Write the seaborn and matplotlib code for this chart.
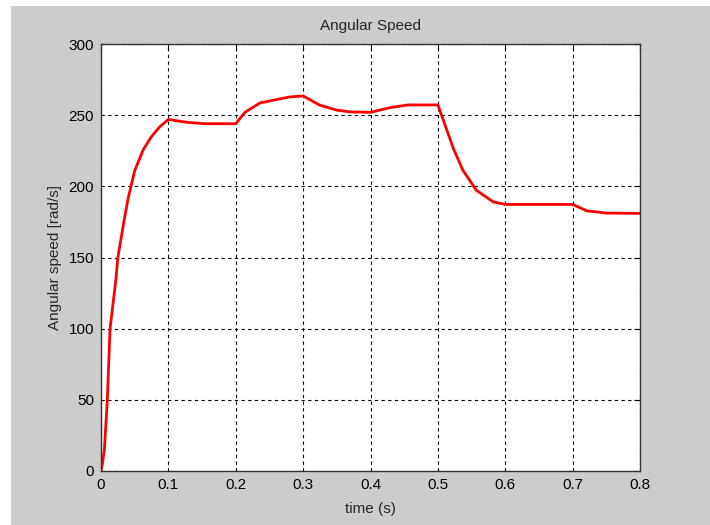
import numpy as np
import pandas as pd
import matplotlib
matplotlib.use("Agg")
import matplotlib.pyplot as plt
from matplotlib.patches import Rectangle
import seaborn as sns

# values
time_s = [0.0, 0.002, 0.005, 0.0094, 0.0134, 0.022, 0.025, 0.0346, 0.0405, 0.05,
          0.063, 0.075, 0.0875, 0.1, 0.127, 0.154, 0.2, 0.2136, 0.236, 0.261,
          0.28, 0.3, 0.325, 0.35, 0.37, 0.4, 0.43, 0.456, 0.5, 0.51,
          0.523, 0.537, 0.557, 0.582, 0.6, 0.7, 0.721, 0.75, 0.8]
speed = [0, 5, 15, 50, 100, 134, 150, 177, 192, 211,
         226, 235, 242, 247, 245, 244, 244, 252, 258.6, 261,
         262.8, 263.5, 257, 253.5, 252.3, 252, 255.4, 257.2, 257.2, 244,
         226.6, 211.4, 197.3, 189.1, 187.3, 187.3, 182.8, 181.2, 181]
x_ticks = [0, 0.1, 0.2, 0.3, 0.4, 0.5, 0.6, 0.7, 0.8]
y_ticks = [0, 50, 100, 150, 200, 250, 300]

df = pd.DataFrame({"time": time_s, "speed": speed})

sns.set_style("white")
plt.rcParams["font.family"] = ["Liberation Sans", "DejaVu Sans"]

grey = "#cccccc"
fig = plt.figure(figsize=(7.1, 5.25), dpi=100, facecolor="white")
# grey figure area (thin white strip on top and left as in the reference)
fig.add_artist(Rectangle((11 / 710, 0), 1, 519 / 525, transform=fig.transFigure,
                         facecolor=grey, edgecolor="none", zorder=-10))
ax = fig.add_axes([101 / 710, 1 - 471 / 525, 539 / 710, 427 / 525])
ax.set_facecolor("white")

sns.lineplot(data=df, x="time", y="speed", color="red", linewidth=2.0, ax=ax)

ax.set_xlim(0, 0.8)
ax.set_ylim(0, 300)
ax.set_xticks(x_ticks)
ax.set_xticklabels([f"{t:g}" for t in x_ticks])
ax.set_yticks(y_ticks)
ax.grid(True, color="black", linestyle=(0, (3, 3)), linewidth=0.8)
for s in ax.spines.values():
    s.set_visible(True)
    s.set_color("#333333")
    s.set_linewidth(1.0)
ax.tick_params(direction="in", length=4, top=True, right=True, labelsize=11,
               colors="black", pad=5)

ax.set_title("Angular Speed", fontsize=11, pad=10)
ax.set_xlabel("time (s)", fontsize=11, labelpad=7)
ax.set_ylabel("Angular speed [rad/s]", fontsize=11, labelpad=5)

fig.savefig("out.png", dpi=100, facecolor=fig.get_facecolor())
